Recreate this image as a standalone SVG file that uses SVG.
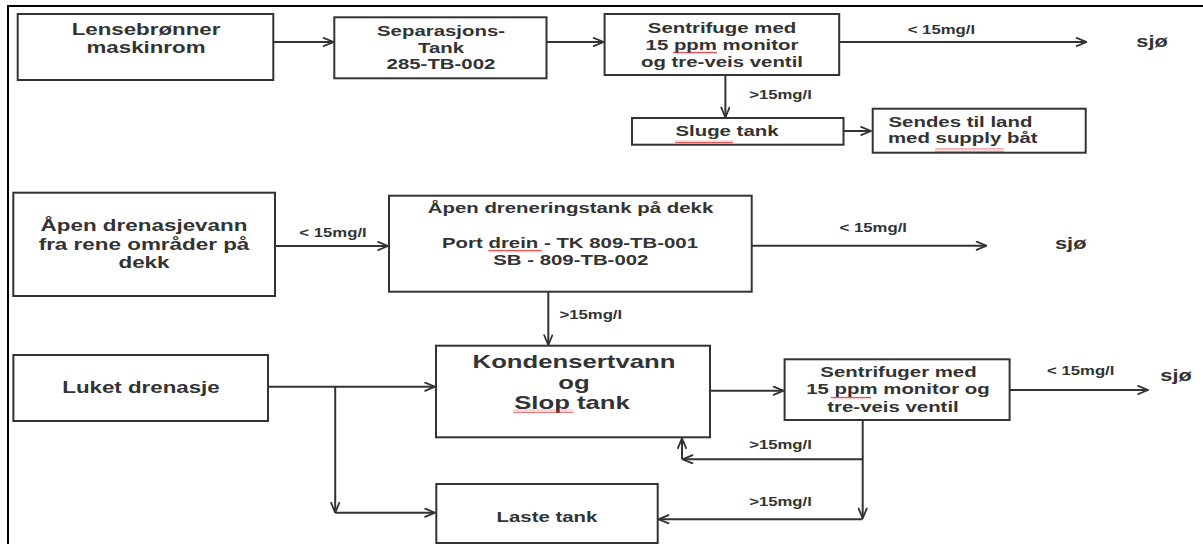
<svg xmlns="http://www.w3.org/2000/svg" width="1203" height="544" viewBox="0 0 1203 544">
<style>
  text { font-family: "Liberation Sans", Arial, sans-serif; font-weight: bold; fill: #333; text-anchor: middle; }
  .box { fill: #fff; stroke: #333; stroke-width: 2; }
  .ln { fill: none; stroke: #333; stroke-width: 2; }
  .arr { fill: none; stroke: #333; stroke-width: 2; marker-end: url(#ah); }
  .lbl { font-size: 12.3px; }
  .n15 { font-size: 15px; }
  .n16 { font-size: 16.4px; }
  .sq { fill: url(#squig); }
</style>
<defs>
  <marker id="ah" viewBox="0 0 12 10" refX="11.5" refY="5" markerWidth="12" markerHeight="10" markerUnits="userSpaceOnUse" orient="auto">
    <path d="M1,0.6 L11.5,5 L1,9.4" fill="none" stroke="#333" stroke-width="1.8"/>
  </marker>
  <pattern id="squig" patternUnits="userSpaceOnUse" width="4" height="3">
    <path d="M0,2.4 L1,0.8 L2,2.4 L3,0.8 L4,2.4" fill="none" stroke="#e02020" stroke-width="0.8"/>
  </pattern>
</defs>
<rect width="1203" height="544" fill="#fff"/>
<g id="frame">
  <line x1="8" y1="6" x2="1203" y2="6" stroke="#000" stroke-width="2"/>
  <line x1="8" y1="5" x2="8" y2="544" stroke="#000" stroke-width="2"/>
</g>

<g id="connectors">
  <line class="arr" x1="273.3" y1="42" x2="333.5" y2="42"/>
  <line class="arr" x1="546.5" y1="42" x2="603.5" y2="42"/>
  <line class="arr" x1="839.2" y1="42" x2="1086.5" y2="42"/>
  <line class="arr" x1="725.4" y1="75" x2="725.4" y2="117.3"/>
  <line class="arr" x1="843.5" y1="131" x2="871" y2="131"/>
  <line class="arr" x1="275" y1="246" x2="388" y2="246"/>
  <line class="arr" x1="751.7" y1="245.7" x2="986.5" y2="245.7"/>
  <line class="arr" x1="548.3" y1="291.7" x2="548.3" y2="345"/>
  <line class="arr" x1="268" y1="386.7" x2="435" y2="386.7"/>
  <line class="arr" x1="335.2" y1="386.7" x2="335.2" y2="512.7"/>
  <line class="arr" x1="335.2" y1="512.7" x2="435" y2="512.7"/>
  <line class="arr" x1="710" y1="390.7" x2="783.5" y2="390.7"/>
  <line class="arr" x1="1009.6" y1="390" x2="1148" y2="390"/>
  <line class="arr" x1="862.7" y1="420" x2="862.7" y2="518.3"/>
  <line class="arr" x1="862.7" y1="459.3" x2="682.7" y2="459.3"/>
  <line class="arr" x1="682" y1="459.3" x2="682" y2="438.3"/>
  <line class="arr" x1="862.7" y1="519.3" x2="658.7" y2="519.3"/>
  <text class="lbl" transform="matrix(1.36 0 0 1 941.4 34.3)">&lt; 15mg/l</text>
  <text class="lbl" transform="matrix(1.36 0 0 1 780.5 99.3)">&gt;15mg/l</text>
  <text class="lbl" transform="matrix(1.36 0 0 1 333 237.3)">&lt; 15mg/l</text>
  <text class="lbl" transform="matrix(1.36 0 0 1 873.3 231.7)">&lt; 15mg/l</text>
  <text class="lbl" transform="matrix(1.36 0 0 1 590.8 319.3)">&gt;15mg/l</text>
  <text class="lbl" transform="matrix(1.36 0 0 1 1080.7 375)">&lt; 15mg/l</text>
  <text class="lbl" transform="matrix(1.36 0 0 1 780.5 449)">&gt;15mg/l</text>
  <text class="lbl" transform="matrix(1.36 0 0 1 780.5 506)">&gt;15mg/l</text>
</g>

<g id="lensebronner">
  <rect class="box" x="17.7" y="14" width="255.6" height="66"/>
  <text class="n16" transform="matrix(1.36 0 0 1 146 35)">Lensebrønner</text>
  <text class="n16" transform="matrix(1.36 0 0 1 146 52.7)">maskinrom</text>
</g>
<g id="separasjonstank">
  <rect class="box" x="334.3" y="17.3" width="212.2" height="61"/>
  <text class="n15" transform="matrix(1.36 0 0 1 441 36)">Separasjons-</text>
  <text class="n15" transform="matrix(1.36 0 0 1 441 52.7)">Tank</text>
  <text class="n15" transform="matrix(1.36 0 0 1 441 69.3)">285-TB-002</text>
</g>
<g id="sentrifuge1">
  <rect class="box" x="604.6" y="14" width="234.6" height="61"/>
  <text class="n15" transform="matrix(1.36 0 0 1 722 32.7)">Sentrifuge med</text>
  <text class="n15" transform="matrix(1.36 0 0 1 722 49.7)">15 ppm monitor</text>
  <text class="n15" transform="matrix(1.36 0 0 1 722 66.7)">og tre-veis ventil</text>
  <rect class="sq" x="673" y="51" width="44" height="3"/>
</g>
<g id="sjo1">
  <text style="font-size:16px" transform="matrix(1.36 0 0 1 1152 47)">sjø</text>
</g>
<g id="slugetank">
  <rect class="box" x="632" y="118" width="211.5" height="26.7"/>
  <text class="n15" transform="matrix(1.36 0 0 1 727 135.7)">Sluge tank</text>
  <rect class="sq" x="675" y="140.3" width="58" height="3"/>
</g>
<g id="sendes">
  <rect class="box" x="872.7" y="108.7" width="213" height="44"/>
  <text class="n15" style="text-anchor:start" transform="matrix(1.36 0 0 1 888.5 126.7)">Sendes til land</text>
  <text class="n15" style="text-anchor:start" transform="matrix(1.36 0 0 1 888 143.3)">med supply båt</text>
  <rect class="sq" x="935" y="148.5" width="69" height="3"/>
</g>

<g id="apendrenasje">
  <rect class="box" x="13.3" y="192.7" width="261.7" height="103.3"/>
  <text style="font-size:16.5px" transform="matrix(1.36 0 0 1 144 230.7)">Åpen drenasjevann</text>
  <text style="font-size:16.5px" transform="matrix(1.36 0 0 1 144 250)">fra rene områder på</text>
  <text style="font-size:16.5px" transform="matrix(1.36 0 0 1 144 268.3)">dekk</text>
</g>
<g id="apendreneringstank">
  <rect class="box" x="389" y="195.7" width="362.7" height="96"/>
  <text class="n15" transform="matrix(1.36 0 0 1 570.5 213.3)">Åpen dreneringstank på dekk</text>
  <text class="n15" transform="matrix(1.36 0 0 1 570 248.3)">Port drein - TK 809-TB-001</text>
  <text class="n15" transform="matrix(1.36 0 0 1 570.8 265)">SB - 809-TB-002</text>
  <rect class="sq" x="488.3" y="249.6" width="53.4" height="3"/>
</g>
<g id="sjo2">
  <text style="font-size:16px" transform="matrix(1.36 0 0 1 1070.7 249.3)">sjø</text>
</g>

<g id="kondensert">
  <rect class="box" x="436" y="345.7" width="274" height="91.6"/>
  <text style="font-size:18px" transform="matrix(1.43 0 0 1 574 368.3)">Kondensertvann</text>
  <text style="font-size:18px" transform="matrix(1.43 0 0 1 574 389)">og</text>
  <text style="font-size:18px" transform="matrix(1.43 0 0 1 572 408.5)">Slop tank</text>
  <rect class="sq" x="513.3" y="409.8" width="60" height="3"/>
</g>
<g id="luket">
  <rect class="box" x="13.4" y="355" width="254.6" height="66"/>
  <text class="n16" transform="matrix(1.36 0 0 1 141 392.7)">Luket drenasje</text>
</g>
<g id="sentrifuger2">
  <rect class="box" x="784.6" y="359.3" width="225" height="60.7"/>
  <text class="n15" transform="matrix(1.36 0 0 1 898.5 376.7)">Sentrifuger med</text>
  <text class="n15" transform="matrix(1.36 0 0 1 898 394.3)">15 ppm monitor og</text>
  <text class="n15" transform="matrix(1.36 0 0 1 893 411.7)">tre-veis ventil</text>
  <rect class="sq" x="830.8" y="396.3" width="40.2" height="3"/>
</g>
<g id="sjo3">
  <text style="font-size:16px" transform="matrix(1.36 0 0 1 1176 381)">sjø</text>
</g>
<g id="lastetank">
  <rect class="box" x="436.3" y="484" width="221.4" height="59"/>
  <text class="n15" transform="matrix(1.36 0 0 1 547 522)">Laste tank</text>
</g>
</svg>
